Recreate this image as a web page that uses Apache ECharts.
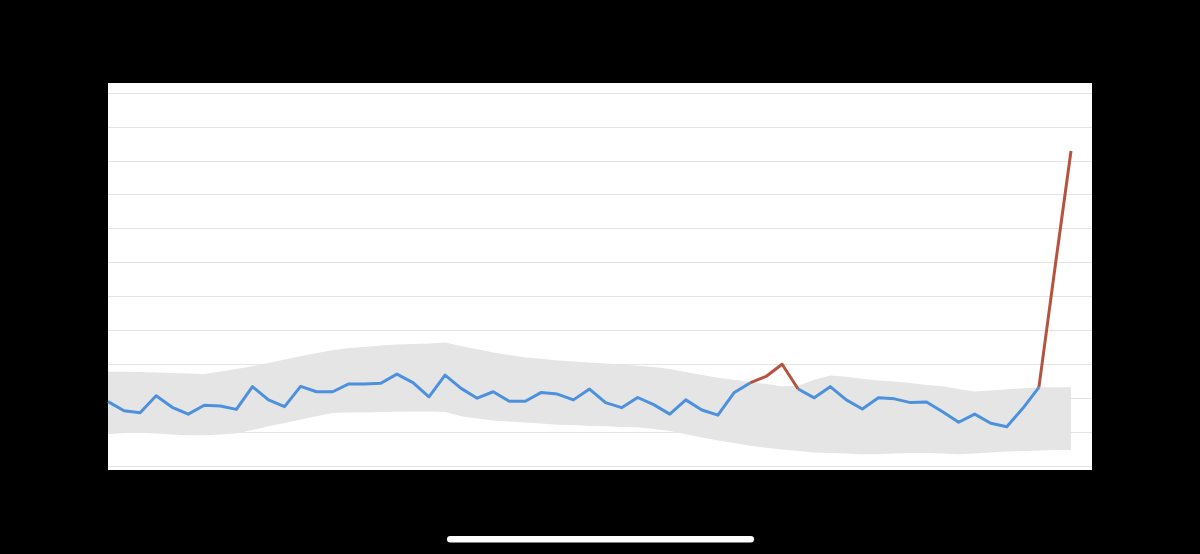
<!DOCTYPE html>
<html>
<head>
<meta charset="utf-8">
<script src="https://cdn.jsdelivr.net/npm/echarts@6/dist/echarts.min.js"></script>
<style>
html,body{margin:0;padding:0;background:#000;}
#chart{width:1200px;height:554px;}
</style>
</head>
<body>
<div id="chart"></div>
<script>
// Category indices (61 periods)
var categories = [];
for (var k = 0; k < 61; k++) categories.push(String(k));

// Y axis ticks (gridlines)
var yTicks = [0,1,2,3,4,5,6,7,8,9,10,11];

// Main (blue) series; null where the alert (red) series takes over
var mainValues = [
  1.90,1.63,1.57,2.07,1.73,1.53,1.79,1.77,1.67,2.34,
  1.95,1.75,2.35,2.19,2.19,2.42,2.42,2.44,2.71,2.46,
  2.04,2.68,2.29,2.00,2.19,1.91,1.91,2.17,2.12,1.95,
  2.27,1.87,1.72,2.02,1.81,1.53,1.95,1.65,1.50,2.16,
  2.45,null,null,2.27,2.01,2.34,1.95,1.68,2.01,1.98,
  1.87,1.89,1.60,1.29,1.53,1.26,1.16,1.70,2.32,null,null
];

// Alert (red) segments
var alertValues = [
  null,null,null,null,null,null,null,null,null,null,
  null,null,null,null,null,null,null,null,null,null,
  null,null,null,null,null,null,null,null,null,null,
  null,null,null,null,null,null,null,null,null,null,
  2.45,2.64,3.00,2.27,null,null,null,null,null,null,
  null,null,null,null,null,null,null,null,2.32,5.84,9.29
];

// Expected range band: upper and lower bounds
var bandUpper = [
  2.78,2.78,2.77,2.76,2.74,2.73,2.71,2.79,2.86,2.94,
  3.04,3.14,3.24,3.33,3.41,3.48,3.51,3.55,3.58,3.60,
  3.61,3.64,3.54,3.44,3.35,3.27,3.20,3.16,3.11,3.08,
  3.05,3.02,2.99,2.96,2.92,2.86,2.77,2.68,2.60,2.54,
  2.48,2.42,2.35,2.37,2.54,2.67,2.63,2.57,2.52,2.49,
  2.45,2.39,2.35,2.27,2.20,2.23,2.26,2.29,2.32,2.32,2.32
];
var bandLower = [
  0.94,0.97,0.98,0.96,0.93,0.91,0.91,0.93,0.96,1.06,
  1.17,1.27,1.37,1.47,1.56,1.58,1.58,1.59,1.60,1.61,
  1.61,1.59,1.47,1.40,1.34,1.31,1.28,1.25,1.22,1.21,
  1.18,1.17,1.15,1.14,1.09,1.03,0.94,0.84,0.75,0.68,
  0.60,0.54,0.49,0.44,0.40,0.38,0.37,0.35,0.35,0.37,
  0.38,0.38,0.37,0.35,0.37,0.40,0.43,0.44,0.46,0.47,0.47
];

var bandWidth = bandUpper.map(function(v,i){ return +(v - bandLower[i]).toFixed(3); });

var hidden = { axisLine:{show:false}, axisTick:{show:false}, axisLabel:{show:false}, splitLine:{show:false} };

var chart = echarts.init(document.getElementById('chart'), null, {renderer:'canvas'});
chart.setOption({
  backgroundColor: '#000000',
  animation: false,
  graphic: [
    { type:'rect', z:-10, shape:{x:108,y:83,width:984,height:387}, style:{fill:'#ffffff'} },
    { type:'rect', z:10, shape:{x:447,y:536,width:307,height:6.5,r:3.25}, style:{fill:'#ffffff'} }
  ],
  grid: [
    { left:108, right:108, top:93, bottom:88, containLabel:false },
    { left:108, right:129, top:93, bottom:88, containLabel:false }
  ],
  xAxis: [
    Object.assign({ type:'category', gridIndex:0, data:categories, boundaryGap:false }, hidden),
    Object.assign({ type:'category', gridIndex:1, data:categories, boundaryGap:false }, hidden)
  ],
  yAxis: [
    { type:'value', gridIndex:0, min:yTicks[0], max:yTicks[yTicks.length-1], interval:1,
      axisLine:{show:false}, axisTick:{show:false}, axisLabel:{show:false},
      splitLine:{show:true, lineStyle:{color:'#e4e4e4', width:1}} },
    Object.assign({ type:'value', gridIndex:1, min:yTicks[0], max:yTicks[yTicks.length-1], interval:1 }, hidden)
  ],
  series: [
    { type:'line', xAxisIndex:1, yAxisIndex:1, stack:'band', data:bandLower, symbol:'none',
      lineStyle:{opacity:0}, areaStyle:{opacity:0}, silent:true, z:1 },
    { type:'line', xAxisIndex:1, yAxisIndex:1, stack:'band', data:bandWidth, symbol:'none',
      lineStyle:{opacity:0}, areaStyle:{color:'#e5e5e5', opacity:1}, silent:true, z:1 },
    { type:'line', xAxisIndex:1, yAxisIndex:1, data:mainValues, symbol:'none', connectNulls:false,
      lineStyle:{color:'#4d90de', width:3, join:'round'}, z:3 },
    { type:'line', xAxisIndex:1, yAxisIndex:1, data:alertValues, symbol:'none', connectNulls:false,
      lineStyle:{color:'#b6533f', width:3, join:'round'}, z:4 }
  ]
});
</script>
</body>
</html>
